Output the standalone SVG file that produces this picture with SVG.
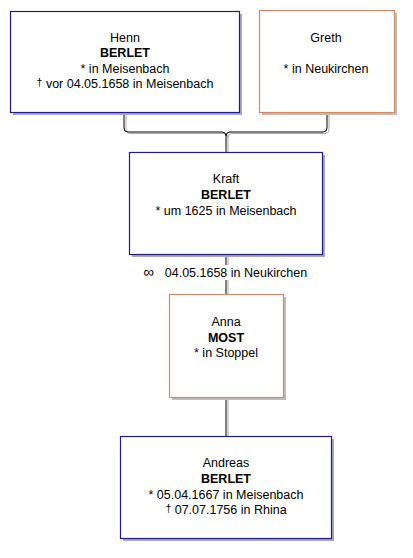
<svg xmlns="http://www.w3.org/2000/svg" width="413" height="558" viewBox="0 0 413 558">
<style>
text{font-family:"Liberation Sans",Arial,sans-serif;font-size:12.5px;fill:#000;text-anchor:middle}
.b{font-weight:bold}
.sh{fill:#a8a8c0}
.shg{fill:#bcbcbc}
.m{fill:#fff;stroke:#1c1c8c;stroke-width:1.2}
.f{fill:#fff;stroke:#d48c68;stroke-width:1.2}
.ln{fill:none;stroke:#000;stroke-width:1}
.lg{fill:none;stroke:#aaa;stroke-width:1}
.sm{font-size:10.5px}
</style>
<rect width="413" height="558" fill="#fff"/>
<g id="connectors">
<g transform="translate(2,1.5)">
<path class="lg" d="M124,112V128Q124,132 128,132H222Q226,132 226,136V152"/>
<path class="lg" d="M327,112V128Q327,132 323,132H230Q226,132 226,136"/>
<path class="lg" d="M226,254V294M226,397V436"/>
</g>
<path class="ln" d="M124,112V128Q124,132 128,132H222Q226,132 226,136V152"/>
<path class="ln" d="M327,112V128Q327,132 323,132H230Q226,132 226,136"/>
<path class="ln" d="M226,254V294M226,397V436"/>
<rect x="140" y="265" width="172" height="15" fill="#fff"/>
<text x="148.5" y="277" style="font-size:15px">∞</text>
<text x="236" y="277">04.05.1658 in Neukirchen</text>
</g>
<g id="henn">
<rect class="sh" x="13" y="14" width="229" height="101"/>
<rect class="m" x="10.5" y="11.5" width="229" height="101"/>
<text x="125" y="42">Henn</text>
<text x="125" y="57" class="b">BERLET</text>
<text x="125" y="73">* in Meisenbach</text>
<text x="125" y="88"><tspan class="sm" dy="-2">†</tspan><tspan dy="2"> vor 04.05.1658 in Meisenbach</tspan></text>
</g>
<g id="greth">
<rect class="shg" x="262" y="13" width="135" height="102"/>
<rect class="f" x="259.5" y="10.5" width="135" height="102"/>
<text x="326" y="42">Greth</text>
<text x="326" y="73">* in Neukirchen</text>
</g>
<g id="kraft">
<rect class="sh" x="132" y="155" width="193" height="102"/>
<rect class="m" x="129.5" y="152.5" width="193" height="102"/>
<text x="226" y="183">Kraft</text>
<text x="226" y="199" class="b">BERLET</text>
<text x="226" y="215">* um 1625 in Meisenbach</text>
</g>
<g id="anna">
<rect class="shg" x="172" y="297" width="114" height="103"/>
<rect class="f" x="169.5" y="294.5" width="114" height="103"/>
<text x="226" y="326">Anna</text>
<text x="226" y="342" class="b">MOST</text>
<text x="226" y="357">* in Stoppel</text>
</g>
<g id="andreas">
<rect class="sh" x="123" y="439" width="211" height="102"/>
<rect class="m" x="120.5" y="436.5" width="211" height="102"/>
<text x="226" y="467">Andreas</text>
<text x="226" y="483" class="b">BERLET</text>
<text x="226" y="499">*  05.04.1667 in Meisenbach</text>
<text x="226" y="514"><tspan class="sm" dy="-2">†</tspan><tspan dy="2">  07.07.1756 in Rhina</tspan></text>
</g>
</svg>
